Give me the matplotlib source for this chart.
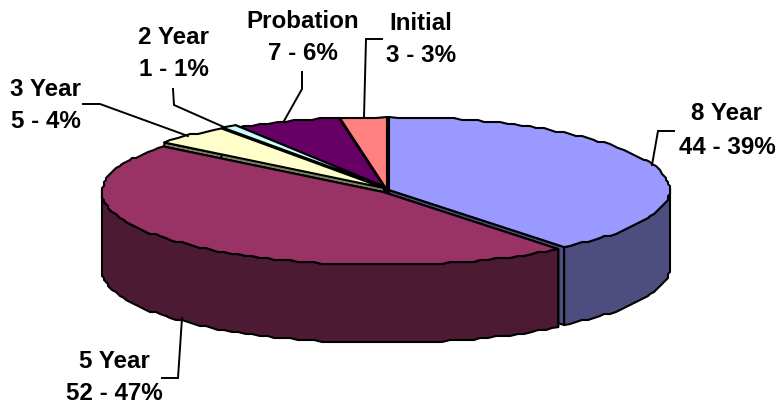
#!/usr/bin/env python3
"""Excel style 3D pie of term lengths, drawn as projected polygons."""

import numpy as np
import matplotlib
matplotlib.use("Agg")
import matplotlib.pyplot as plt
from matplotlib.patches import Polygon

plt.rcParams["font.family"] = ["Liberation Sans", "DejaVu Sans"]

# clockwise from 12 o'clock
NAMES = ["8 Year", "5 Year", "3 Year", "2 Year", "Probation", "Initial"]
COUNTS = [44, 52, 5, 1, 7, 3]
PERCENTS = [39, 47, 4, 1, 6, 3]
TOP_COLORS = ["#9999FF", "#993366", "#FFFFCC", "#CCFFFF", "#660066", "#FF8080"]
SIDE_COLORS = ["#4D4D80", "#4D1A33", "#808066", "#668080", "#330033", "#804040"]

# ellipse geometry in pixels
RX, RY, DEPTH = 281, 73, 78
CENTERS = [(389, 190), (383, 192), (384, 188), (385, 187), (386, 190), (387, 190)]
DRAW_ORDER = [5, 4, 3, 2, 0, 1]
GRID = 2.0  # the original rim is a slightly wobbly polyline

# label centre x, first line y, second line y
LABEL_POS = [(727, 114, 147), (114, 362, 394), (46, 89, 121),
             (174, 37, 69), (303, 21, 53), (421, 23, 55)]
LEADERS = [
    [(652, 165), (658, 131), (674, 131)],
    [(182, 318), (178, 378), (162, 378)],
    [(83, 104), (100, 104), (188, 136)],
    [(173, 89), (174, 105), (226, 128)],
    [(302, 72), (302, 89), (284, 121)],
    [(382, 39), (366, 39), (364, 117)],
]


def point(center, theta):
    return (center[0] + RX * np.sin(theta), center[1] - RY * np.cos(theta))


def draw_slice(ax, center, a0, a1, top, side):
    theta = np.linspace(a0, a1, max(int((a1 - a0) * 35), 2))
    xs, ys = point(center, theta)
    xs[1:-1] = np.round(xs[1:-1] / GRID) * GRID
    ys[1:-1] = np.round(ys[1:-1] / GRID) * GRID
    style = dict(edgecolor="black", linewidth=1.5, joinstyle="round")

    # radial walls first, then the outer wall, then the lid
    for a in (a0, a1):
        x, y = point(center, a)
        wall = [center, (x, y), (x, y + DEPTH), (center[0], center[1] + DEPTH)]
        ax.add_patch(Polygon(wall, facecolor=side, **style))

    front = np.cos(theta) < 0.05
    if front.any():
        fx, fy = xs[front], ys[front]
        wall = np.r_[np.c_[fx, fy], np.c_[fx, fy + DEPTH][::-1]]
        ax.add_patch(Polygon(wall, facecolor=side, **style))

    lid = np.r_[[center], np.c_[xs, ys]]
    ax.add_patch(Polygon(lid, facecolor=top, **style))


def main():
    fig = plt.figure(figsize=(7.78, 4.07), dpi=100)
    ax = fig.add_axes([0, 0, 1, 1])
    ax.set_xlim(0, 778)
    ax.set_ylim(407, 0)
    ax.axis("off")

    edges = np.r_[0, np.cumsum(COUNTS)] / sum(COUNTS) * 2 * np.pi
    for i in DRAW_ORDER:
        draw_slice(ax, CENTERS[i], edges[i], edges[i + 1], TOP_COLORS[i], SIDE_COLORS[i])

    for line in LEADERS:
        xs, ys = zip(*line)
        ax.plot(xs, ys, color="black", linewidth=1.4, solid_joinstyle="miter")

    for name, count, pct, (x, y1, y2) in zip(NAMES, COUNTS, PERCENTS, LABEL_POS):
        ax.text(x, y1, name, ha="center", va="center", fontsize=17.4, fontweight="bold")
        ax.text(x, y2, f"{count} - {pct}%", ha="center", va="center", fontsize=17.4, fontweight="bold")

    fig.savefig("out.png", dpi=100)


if __name__ == "__main__":
    main()
